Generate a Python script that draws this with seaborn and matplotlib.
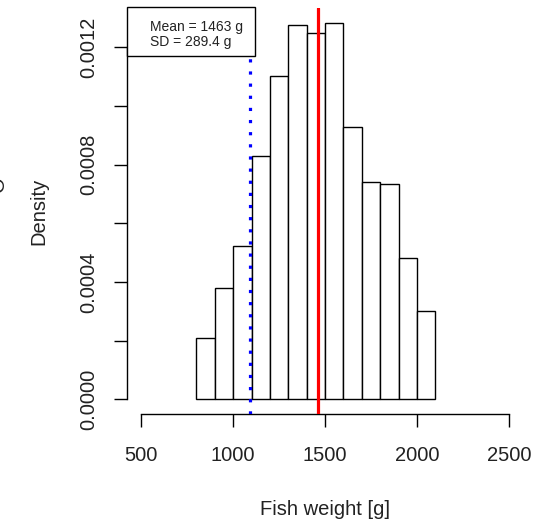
import numpy as np
import seaborn as sns
import matplotlib.pyplot as plt
from matplotlib.patches import Rectangle

# histogram bins (g) and density per bin
bin_edges = [800, 900, 1000, 1100, 1200, 1300, 1400, 1500, 1600, 1700, 1800, 1900, 2000, 2100]
density = [0.000208, 0.000380, 0.000523, 0.000830, 0.001103, 0.001275, 0.001248,
           0.001283, 0.000927, 0.000741, 0.000733, 0.000482, 0.000301]
mean_w = 1463
sd_w = 289.4
low_line = 1090  # blue dotted line

x_ticks = [500, 1000, 1500, 2000, 2500]
y_ticks = [0, 0.0002, 0.0004, 0.0006, 0.0008, 0.0010, 0.0012]
y_labels = ['0.0000', '', '0.0004', '', '0.0008', '', '0.0012']

sns.set_style('ticks')
plt.rcParams['font.family'] = ['Liberation Sans', 'DejaVu Sans']

fig = plt.figure(figsize=(5.51, 5.21), dpi=100)
ax = fig.add_axes([0.2299, 0.2046, 0.7201, 0.7804])

mids = [(a + b) / 2 for a, b in zip(bin_edges[:-1], bin_edges[1:])]
sns.histplot(x=mids, weights=density, bins=bin_edges, stat='count',
             color='white', edgecolor='black', linewidth=1.0, alpha=1, ax=ax)

ax.axvline(mean_w, color='red', lw=2.3, zorder=3)
ax.axvline(low_line, color='blue', lw=2.3, dashes=(1.0, 2.8), zorder=3)

ax.set_xlim(420, 2580)
ax.set_ylim(-0.0000513, 0.001334)

ax.set_xticks(x_ticks)
ax.set_xticklabels([str(v) for v in x_ticks])
ax.set_yticks(y_ticks)
ax.set_yticklabels(y_labels, rotation=90, va='center')

for s in ['top', 'right']:
    ax.spines[s].set_visible(False)
ax.spines['left'].set_bounds(0, 0.0012)
ax.spines['bottom'].set_bounds(500, 2500)
for s in ['left', 'bottom']:
    ax.spines[s].set_linewidth(1.0)
    ax.spines[s].set_color('black')

ax.tick_params(axis='both', direction='out', length=9.5, width=1.0, color='black',
               labelsize=14.5, labelcolor='#222222')
ax.tick_params(axis='x', pad=13)
ax.tick_params(axis='y', pad=11)

ax.set_xlabel('Fish weight [g]', fontsize=14.5, color='#222222', labelpad=25.5)
ax.set_ylabel('Density', fontsize=14.5, color='#222222', labelpad=22)

# legend-like box in the top left corner
ax.add_patch(Rectangle((0, 0.881), 0.3227, 0.120, transform=ax.transAxes,
                       facecolor='white', edgecolor='black', lw=1.0, zorder=5,
                       clip_on=False))
ax.text(0.0587, 0.953, 'Mean = %d g' % mean_w, transform=ax.transAxes,
        fontsize=10, va='center', ha='left', zorder=6, color='#222222')
ax.text(0.0587, 0.915, 'SD = %.1f g' % sd_w, transform=ax.transAxes,
        fontsize=10, va='center', ha='left', zorder=6, color='#222222')

# partly visible letter at the left edge (cut in the original)
fig.text(-1.5 / 551, 1 - 184 / 521, 'O', rotation=90, fontsize=14.5,
         ha='center', va='center', color='#222222')

fig.savefig('out.png', dpi=100)
